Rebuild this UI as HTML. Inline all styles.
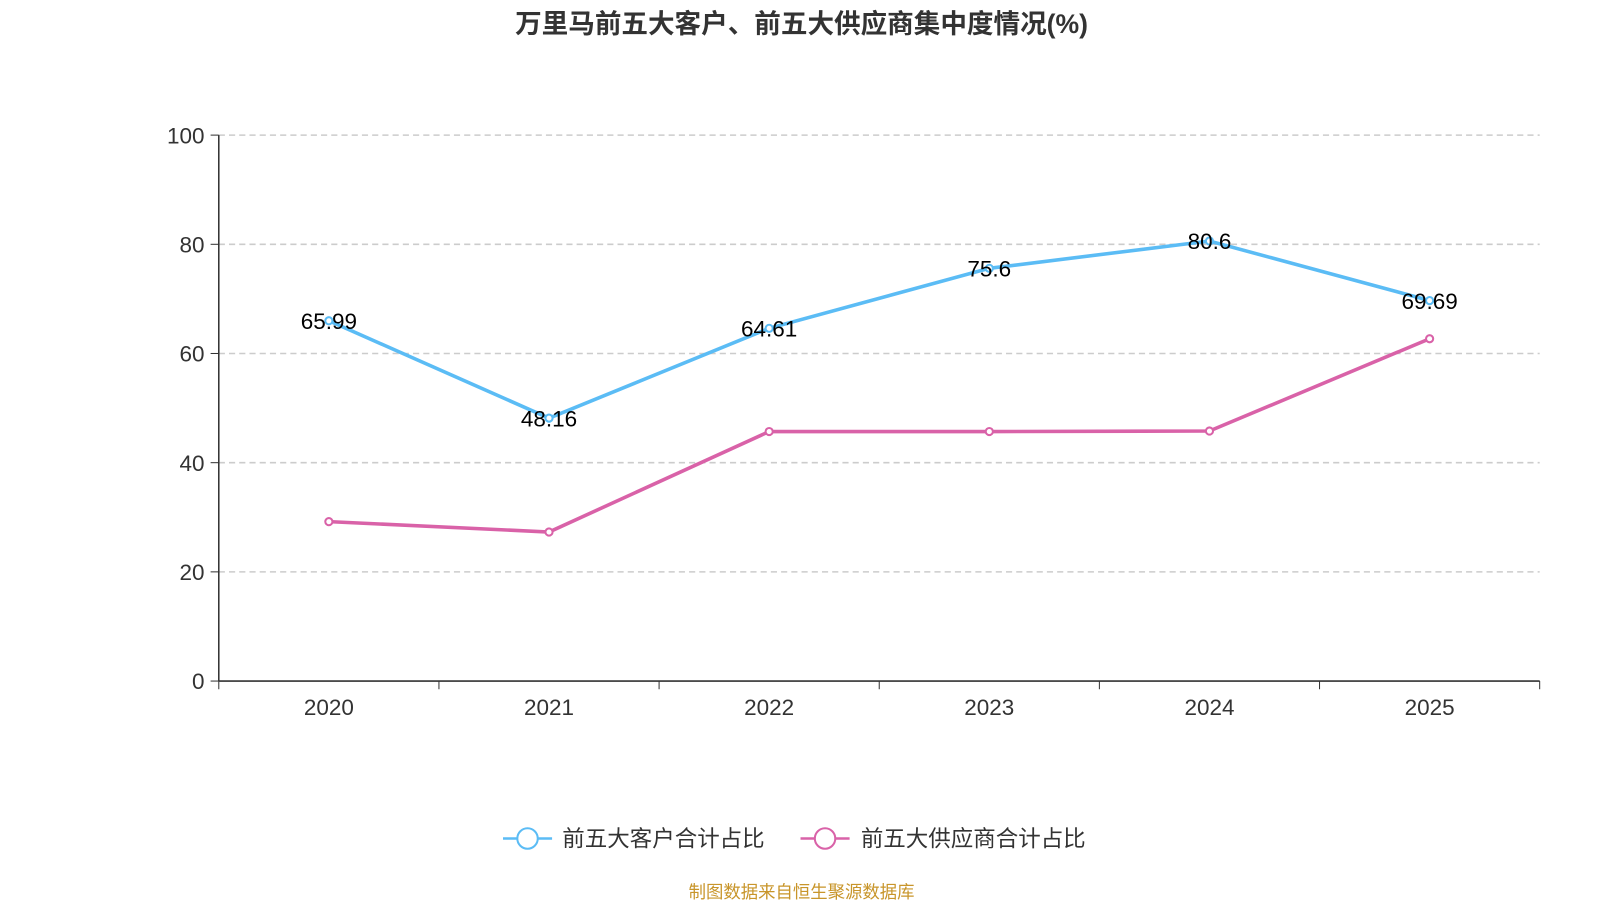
<!DOCTYPE html>
<html><head><meta charset="utf-8"><style>
body{margin:0;background:#fff;font-family:"Liberation Sans","Noto Sans CJK SC",sans-serif;}
svg text{font-family:"Liberation Sans","Noto Sans CJK SC",sans-serif;}
</style></head><body>
<svg id="c" width="1600" height="900" viewBox="0 0 1565 880">
<text x="784" y="32" text-anchor="middle" font-size="26" font-weight="bold" fill="#333">万里马前五大客户、前五大供应商集中度情况(%)</text>
<g id="grid"></g><g id="axes"></g><g id="series"></g>
<g>
<g>
<line x1="492" y1="820" x2="540" y2="820" stroke="#5bbcf5" stroke-width="2.5"/><circle cx="516" cy="820" r="10" fill="#fff" stroke="#5bbcf5" stroke-width="2"/>
<text x="550" y="828" font-size="22" fill="#333">前五大客户合计占比</text></g>
<g>
<line x1="783" y1="820" x2="831" y2="820" stroke="#d962a8" stroke-width="2.5"/><circle cx="807" cy="820" r="10" fill="#fff" stroke="#d962a8" stroke-width="2"/>
<text x="842" y="828" font-size="22" fill="#333">前五大供应商合计占比</text></g>
</g>
<text x="784" y="878" text-anchor="middle" font-size="17" fill="#c8952a">制图数据来自恒生聚源数据库</text>
</svg>
<script>
const categories=["2020","2021","2022","2023","2024","2025"];
const customers=[65.99,48.16,64.61,75.6,80.6,69.69];
const suppliers=[29.2,27.3,45.7,45.7,45.8,62.7];
const yTicks=[0,20,40,60,80,100];
const NS="http://www.w3.org/2000/svg";
const x0=214,x1=1506,yTop=132,yBot=666;
const bw=(x1-x0)/categories.length;
const xs=i=>x0+bw*(i+0.5);
const ys=v=>yBot-(v/100)*(yBot-yTop);
function mk(t,a,p){const e=document.createElementNS(NS,t);for(const k in a)e.setAttribute(k,a[k]);p.appendChild(e);return e;}
const grid=document.getElementById('grid'),axes=document.getElementById('axes'),ser=document.getElementById('series');
yTicks.forEach(v=>{
 if(v>0){const g=mk('line',{x1:x0,x2:x1,y1:ys(v),y2:ys(v),stroke:'#ccc','stroke-dasharray':'6,4','stroke-width':1.5},grid);
 
 }
 const tk=mk('line',{x1:x0-8,x2:x0,y1:ys(v),y2:ys(v),stroke:'#333'},axes);
 
 
 const t=mk('text',{x:x0-14,y:ys(v)+8,'text-anchor':'end','font-size':22,fill:'#333'},axes);t.textContent=v;
 
 
});
const ya=mk('line',{x1:x0,x2:x0,y1:yTop,y2:yBot,stroke:'#333','stroke-width':1.5},axes);


const xa=mk('line',{x1:x0,x2:x1,y1:yBot,y2:yBot,stroke:'#333','stroke-width':1.5},axes);


for(let i=0;i<=categories.length;i++){const tk=mk('line',{x1:x0+bw*i,x2:x0+bw*i,y1:yBot,y2:yBot+8,stroke:'#333'},axes);
 
 }
categories.forEach((c,i)=>{const t=mk('text',{x:xs(i),y:699,'text-anchor':'middle','font-size':22,fill:'#333'},axes);t.textContent=c;
 
 });
function series(vals,color,name,labels){
 const p=mk('polyline',{points:vals.map((v,i)=>xs(i)+','+ys(v)).join(' '),fill:'none',stroke:color,'stroke-width':3.5},ser);
 
 
 vals.forEach((v,i)=>{const c=mk('circle',{cx:xs(i),cy:ys(v),r:3.5,fill:'#fff',stroke:color,'stroke-width':2},ser);
  
  
  if(labels){const t=mk('text',{x:xs(i),y:ys(v)+8,'text-anchor':'middle','font-size':22,fill:'#000'},ser);t.textContent=v;
  
  }
 });
}
series(suppliers,'#d962a8','suppliers',false);
series(customers,'#5bbcf5','customers',true);
</script>
</body></html>
